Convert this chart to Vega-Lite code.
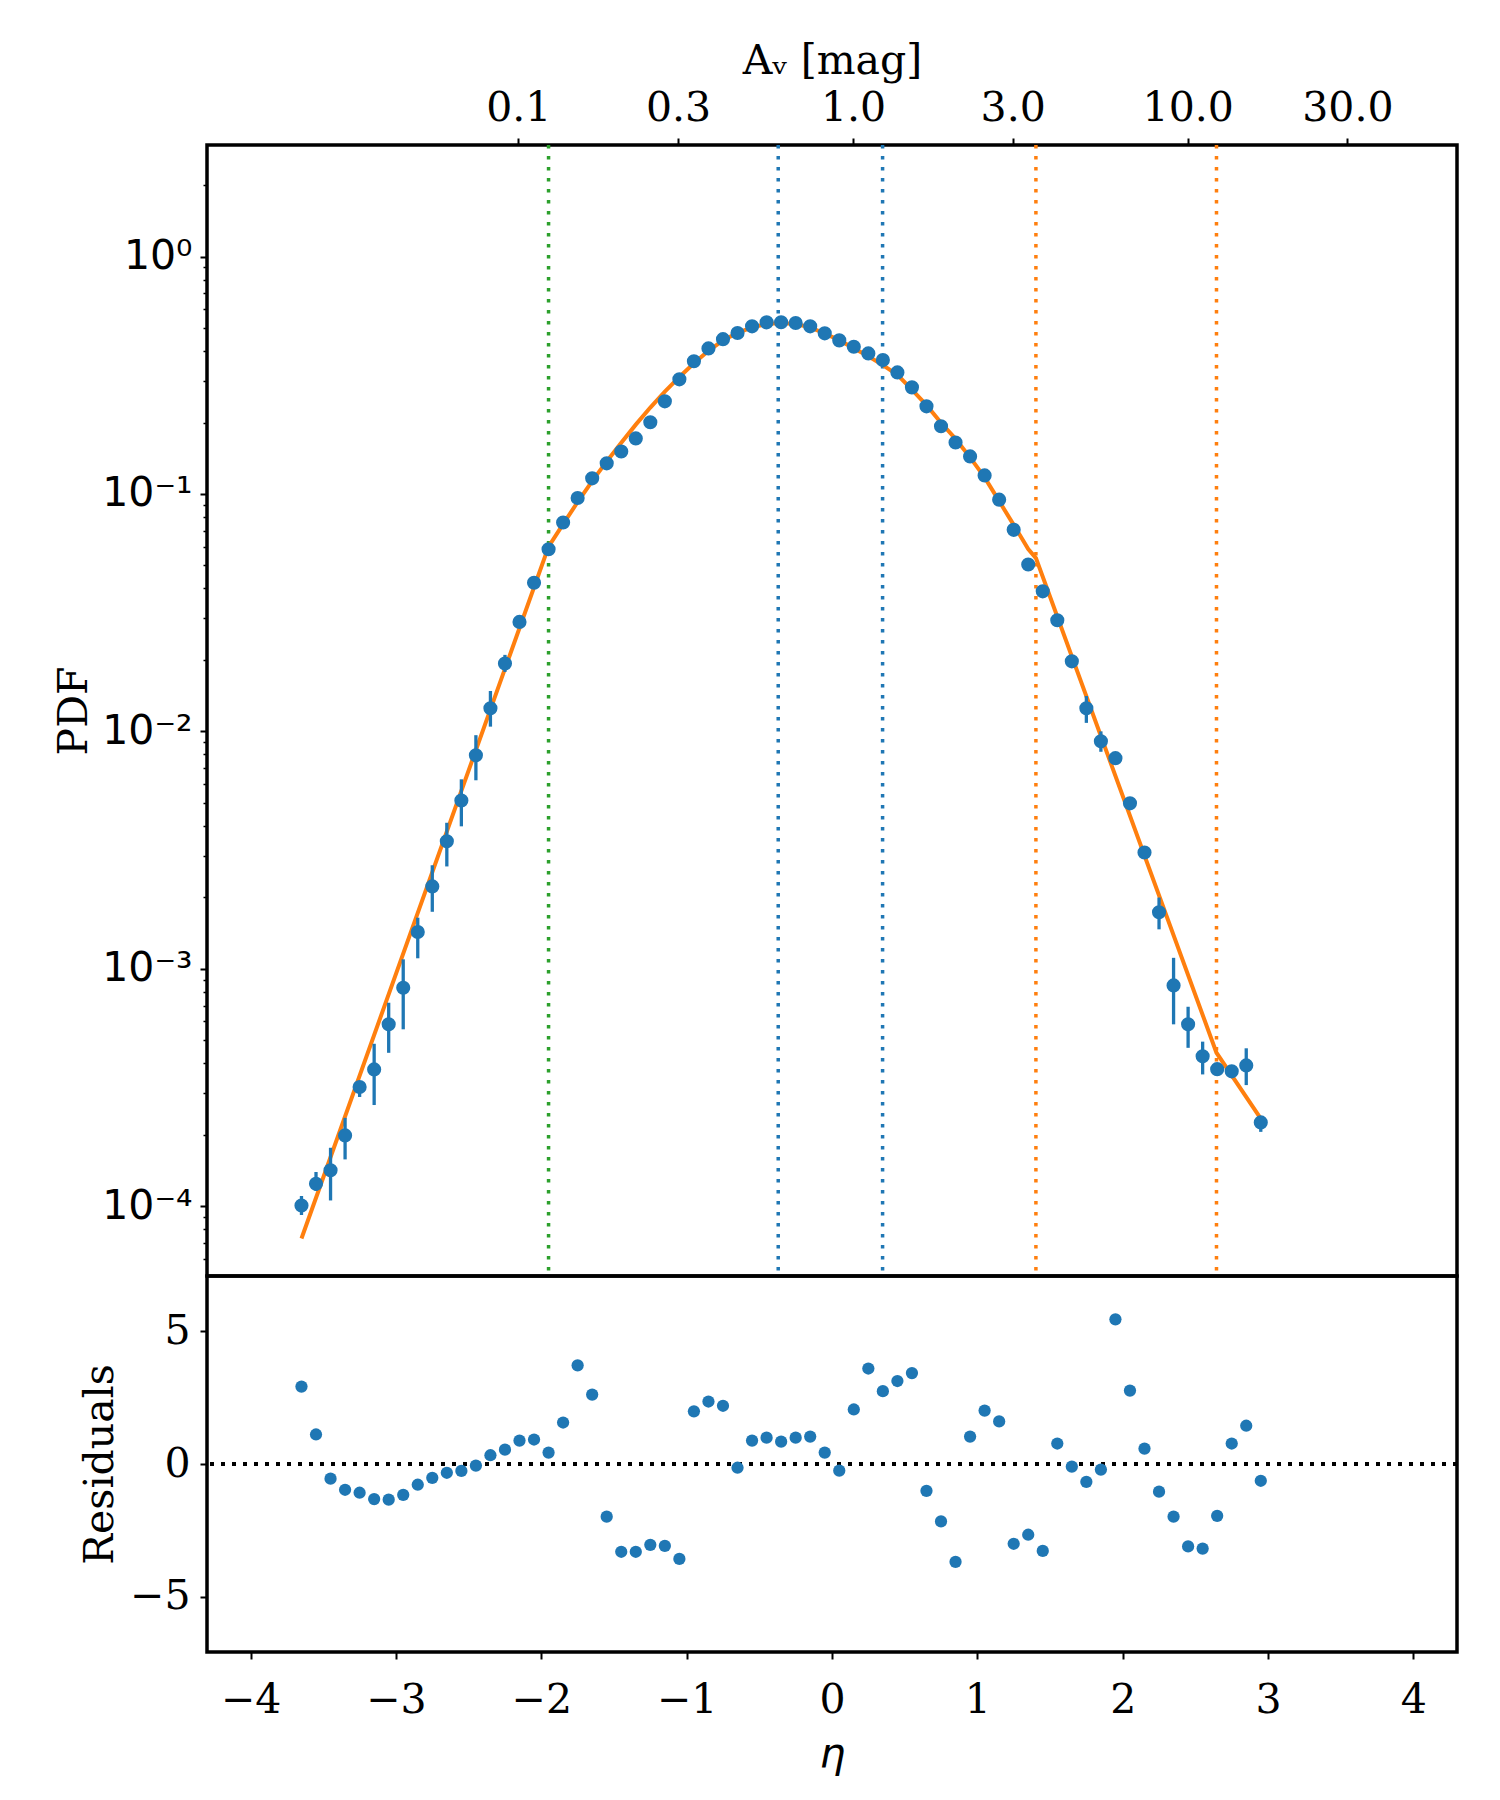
{
  "$schema": "https://vega.github.io/schema/vega-lite/v6.json",
  "background": "white",
  "padding": {"left": 52, "top": 38, "right": 10, "bottom": 10},
  "spacing": 0,
  "bounds": "flush",
  "config": {
    "view": {"stroke": "black", "strokeWidth": 3.5},
    "axis": {
      "domain": false, "grid": false,
      "tickColor": "black", "tickWidth": 2, "tickSize": 7,
      "labelColor": "black", "titleColor": "black",
      "labelFont": "DejaVu Serif", "labelFontSize": 41,
      "titleFont": "DejaVu Serif", "titleFontSize": 41, "titleFontWeight": "normal",
      "labelFlush": false, "labelOverlap": false
    }
  },
  "datasets": {
    "pdf": [
      {"eta": -3.65, "pdf": 1.007e-4, "lo": 9.18e-5, "hi": 1.104e-4, "res": 2.91},
      {"eta": -3.55, "pdf": 1.242e-4, "lo": 1.159e-4, "hi": 1.393e-4, "res": 1.11},
      {"eta": -3.45, "pdf": 1.416e-4, "lo": 1.057e-4, "hi": 1.762e-4, "res": -0.55},
      {"eta": -3.35, "pdf": 1.986e-4, "lo": 1.574e-4, "hi": 2.355e-4, "res": -0.97},
      {"eta": -3.25, "pdf": 3.177e-4, "lo": 2.884e-4, "hi": 3.311e-4, "res": -1.08},
      {"eta": -3.15, "pdf": 3.767e-4, "lo": 2.667e-4, "hi": 4.831e-4, "res": -1.32},
      {"eta": -3.05, "pdf": 5.834e-4, "lo": 4.426e-4, "hi": 7.194e-4, "res": -1.34},
      {"eta": -2.95, "pdf": 8.318e-4, "lo": 5.559e-4, "hi": 1.096e-3, "res": -1.16},
      {"eta": -2.85, "pdf": 1.429e-3, "lo": 1.107e-3, "hi": 1.641e-3, "res": -0.78},
      {"eta": -2.75, "pdf": 2.223e-3, "lo": 1.738e-3, "hi": 2.729e-3, "res": -0.52},
      {"eta": -2.65, "pdf": 3.443e-3, "lo": 2.698e-3, "hi": 4.121e-3, "res": -0.33},
      {"eta": -2.55, "pdf": 5.117e-3, "lo": 3.981e-3, "hi": 6.281e-3, "res": -0.26},
      {"eta": -2.45, "pdf": 7.925e-3, "lo": 6.223e-3, "hi": 9.638e-3, "res": -0.06},
      {"eta": -2.35, "pdf": 1.250e-2, "lo": 1.047e-2, "hi": 1.479e-2, "res": 0.33},
      {"eta": -2.25, "pdf": 1.932e-2, "lo": 1.78e-2, "hi": 2.10e-2, "res": 0.54},
      {"eta": -2.15, "pdf": 2.891e-2, "lo": 2.75e-2, "hi": 3.04e-2, "res": 0.88},
      {"eta": -2.05, "pdf": 4.227e-2, "lo": 4.12e-2, "hi": 4.34e-2, "res": 0.92},
      {"eta": -1.95, "pdf": 5.848e-2, "lo": 5.74e-2, "hi": 5.96e-2, "res": 0.43},
      {"eta": -1.85, "pdf": 0.07586, "lo": 0.0746, "hi": 0.0771, "res": 1.56},
      {"eta": -1.75, "pdf": 0.09616, "lo": 0.0948, "hi": 0.0975, "res": 3.71},
      {"eta": -1.65, "pdf": 0.1164, "lo": 0.1149, "hi": 0.1179, "res": 2.61},
      {"eta": -1.55, "pdf": 0.1346, "lo": 0.1330, "hi": 0.1362, "res": -1.98},
      {"eta": -1.45, "pdf": 0.1510, "lo": 0.1494, "hi": 0.1526, "res": -3.30},
      {"eta": -1.35, "pdf": 0.1714, "lo": 0.1697, "hi": 0.1731, "res": -3.30},
      {"eta": -1.25, "pdf": 0.2004, "lo": 0.1986, "hi": 0.2022, "res": -3.04},
      {"eta": -1.15, "pdf": 0.2455, "lo": 0.2435, "hi": 0.2475, "res": -3.08},
      {"eta": -1.05, "pdf": 0.3041, "lo": 0.3018, "hi": 0.3064, "res": -3.57},
      {"eta": -0.95, "pdf": 0.3622, "lo": 0.3597, "hi": 0.3647, "res": 1.98},
      {"eta": -0.85, "pdf": 0.4102, "lo": 0.4075, "hi": 0.4129, "res": 2.35},
      {"eta": -0.75, "pdf": 0.4487, "lo": 0.4459, "hi": 0.4515, "res": 2.19},
      {"eta": -0.65, "pdf": 0.4764, "lo": 0.4735, "hi": 0.4793, "res": -0.14},
      {"eta": -0.55, "pdf": 0.5082, "lo": 0.5052, "hi": 0.5112, "res": 0.88},
      {"eta": -0.45, "pdf": 0.5284, "lo": 0.5253, "hi": 0.5315, "res": 0.99},
      {"eta": -0.35, "pdf": 0.5290, "lo": 0.5259, "hi": 0.5321, "res": 0.84},
      {"eta": -0.25, "pdf": 0.5248, "lo": 0.5217, "hi": 0.5279, "res": 0.99},
      {"eta": -0.15, "pdf": 0.5082, "lo": 0.5052, "hi": 0.5112, "res": 1.03},
      {"eta": -0.05, "pdf": 0.4748, "lo": 0.4719, "hi": 0.4777, "res": 0.43},
      {"eta": 0.05, "pdf": 0.4436, "lo": 0.4408, "hi": 0.4464, "res": -0.25},
      {"eta": 0.15, "pdf": 0.4169, "lo": 0.4142, "hi": 0.4196, "res": 2.05},
      {"eta": 0.25, "pdf": 0.3908, "lo": 0.3882, "hi": 0.3934, "res": 3.59},
      {"eta": 0.35, "pdf": 0.3664, "lo": 0.3639, "hi": 0.3689, "res": 2.74},
      {"eta": 0.45, "pdf": 0.3251, "lo": 0.3227, "hi": 0.3275, "res": 3.12},
      {"eta": 0.55, "pdf": 0.2812, "lo": 0.2790, "hi": 0.2834, "res": 3.42},
      {"eta": 0.65, "pdf": 0.2339, "lo": 0.2319, "hi": 0.2359, "res": -1.01},
      {"eta": 0.75, "pdf": 0.1928, "lo": 0.1910, "hi": 0.1946, "res": -2.16},
      {"eta": 0.85, "pdf": 0.1648, "lo": 0.1631, "hi": 0.1665, "res": -3.68},
      {"eta": 0.95, "pdf": 0.1439, "lo": 0.1423, "hi": 0.1455, "res": 1.03},
      {"eta": 1.05, "pdf": 0.1197, "lo": 0.1182, "hi": 0.1212, "res": 2.01},
      {"eta": 1.15, "pdf": 0.09462, "lo": 0.0933, "hi": 0.0960, "res": 1.60},
      {"eta": 1.25, "pdf": 0.07063, "lo": 0.0695, "hi": 0.0718, "res": -3.00},
      {"eta": 1.35, "pdf": 0.05047, "lo": 0.0495, "hi": 0.0515, "res": -2.66},
      {"eta": 1.45, "pdf": 0.03890, "lo": 0.0380, "hi": 0.0398, "res": -3.27},
      {"eta": 1.55, "pdf": 0.02938, "lo": 0.0286, "hi": 0.0302, "res": 0.77},
      {"eta": 1.65, "pdf": 0.01972, "lo": 0.0190, "hi": 0.0205, "res": -0.10},
      {"eta": 1.75, "pdf": 0.01250, "lo": 0.01086, "hi": 0.01409, "res": -0.67},
      {"eta": 1.85, "pdf": 0.009078, "lo": 0.008204, "hi": 0.0100, "res": -0.21},
      {"eta": 1.95, "pdf": 0.007709, "lo": 0.00745, "hi": 0.00797, "res": 5.44},
      {"eta": 2.05, "pdf": 0.004977, "lo": 0.00480, "hi": 0.00516, "res": 2.76},
      {"eta": 2.15, "pdf": 0.003090, "lo": 0.00295, "hi": 0.00323, "res": 0.58},
      {"eta": 2.25, "pdf": 0.001730, "lo": 0.001466, "hi": 0.001995, "res": -1.04},
      {"eta": 2.35, "pdf": 8.511e-4, "lo": 5.834e-4, "hi": 1.112e-3, "res": -1.98},
      {"eta": 2.45, "pdf": 5.834e-4, "lo": 4.645e-4, "hi": 6.918e-4, "res": -3.10},
      {"eta": 2.55, "pdf": 4.276e-4, "lo": 3.589e-4, "hi": 4.932e-4, "res": -3.18},
      {"eta": 2.65, "pdf": 3.776e-4, "lo": 3.55e-4, "hi": 4.00e-4, "res": -1.95},
      {"eta": 2.75, "pdf": 3.698e-4, "lo": 3.47e-4, "hi": 3.93e-4, "res": 0.77},
      {"eta": 2.85, "pdf": 3.917e-4, "lo": 3.236e-4, "hi": 4.624e-4, "res": 1.44},
      {"eta": 2.95, "pdf": 2.254e-4, "lo": 2.056e-4, "hi": 2.399e-4, "res": -0.63}
    ],
    "model": [
      {"eta": -3.65, "pdf": 7.31e-5},
      {"eta": -1.95, "pdf": 0.0600},
      {"eta": -1.85, "pdf": 0.0746},
      {"eta": -1.75, "pdf": 0.0925},
      {"eta": -1.65, "pdf": 0.1132},
      {"eta": -1.55, "pdf": 0.1371},
      {"eta": -1.45, "pdf": 0.1644},
      {"eta": -1.35, "pdf": 0.1959},
      {"eta": -1.25, "pdf": 0.2312},
      {"eta": -1.15, "pdf": 0.2698},
      {"eta": -1.05, "pdf": 0.3112},
      {"eta": -0.95, "pdf": 0.3556},
      {"eta": -0.85, "pdf": 0.4009},
      {"eta": -0.75, "pdf": 0.4436},
      {"eta": -0.65, "pdf": 0.4775},
      {"eta": -0.55, "pdf": 0.5035},
      {"eta": -0.45, "pdf": 0.5200},
      {"eta": -0.35, "pdf": 0.5248},
      {"eta": -0.25, "pdf": 0.5200},
      {"eta": -0.15, "pdf": 0.5035},
      {"eta": -0.05, "pdf": 0.4742},
      {"eta": 0.05, "pdf": 0.4446},
      {"eta": 0.15, "pdf": 0.4111},
      {"eta": 0.25, "pdf": 0.3802},
      {"eta": 0.35, "pdf": 0.3491},
      {"eta": 0.45, "pdf": 0.3177},
      {"eta": 0.55, "pdf": 0.2754},
      {"eta": 0.65, "pdf": 0.2366},
      {"eta": 0.75, "pdf": 0.1995},
      {"eta": 0.85, "pdf": 0.1706},
      {"eta": 0.95, "pdf": 0.1426},
      {"eta": 1.05, "pdf": 0.1175},
      {"eta": 1.15, "pdf": 0.0933},
      {"eta": 1.25, "pdf": 0.0741},
      {"eta": 1.35, "pdf": 0.0586},
      {"eta": 1.403, "pdf": 0.0537},
      {"eta": 2.645, "pdf": 4.43e-4},
      {"eta": 2.95, "pdf": 2.34e-4}
    ],
    "lines": [
      {"av": 0.1231, "band": "low"},
      {"av": 0.5977, "band": "mid"},
      {"av": 1.2255, "band": "mid"},
      {"av": 3.519, "band": "high"},
      {"av": 12.19, "band": "high"}
    ]
  },
  "vconcat": [
    {
      "width": 1250,
      "height": 1131,
      "resolve": {"scale": {"x": "independent"}, "axis": {"x": "independent"}},
      "layer": [
        {
          "data": {"name": "lines"},
          "mark": {"type": "rule", "strokeWidth": 3.5, "strokeDash": [3.5, 7.5]},
          "encoding": {
            "x": {
              "field": "av", "type": "quantitative",
              "scale": {"type": "log", "domain": [0.011741, 63.77], "nice": false},
              "axis": {
                "orient": "top", "values": [0.1, 0.3, 1, 3, 10, 30], "format": ".1f",
                "title": "Aᵥ [mag]", "labelPadding": 9, "titlePadding": 5
              }
            },
            "color": {
              "field": "band", "type": "nominal",
              "scale": {"domain": ["low", "mid", "high"], "range": ["#2ca02c", "#1f77b4", "#ff7f0e"]},
              "legend": null
            }
          }
        },
        {
          "layer": [
            {
              "data": {"name": "model"},
              "mark": {"type": "line", "color": "#ff7f0e", "strokeWidth": 4},
              "encoding": {
                "x": {"field": "eta", "type": "quantitative", "scale": {"domain": [-4.3, 4.3], "nice": false}, "axis": null},
                "y": {"field": "pdf", "type": "quantitative", "title": "PDF",
                  "scale": {"type": "log", "domain": [5.08e-5, 2.951], "nice": false},
                  "axis": {
                    "title": "PDF",
                    "values": [6e-5, 7e-5, 8e-5, 9e-5, 1e-4, 2e-4, 3e-4, 4e-4, 5e-4, 6e-4, 7e-4, 8e-4, 9e-4, 0.001, 0.002, 0.003, 0.004, 0.005, 0.006, 0.007, 0.008, 0.009, 0.01, 0.02, 0.03, 0.04, 0.05, 0.06, 0.07, 0.08, 0.09, 0.1, 0.2, 0.3, 0.4, 0.5, 0.6, 0.7, 0.8, 0.9, 1, 2],
                    "labelExpr": "datum.value == 1 ? '10⁰' : datum.value == 0.1 ? '10⁻¹' : datum.value == 0.01 ? '10⁻²' : datum.value == 0.001 ? '10⁻³' : datum.value == 0.0001 ? '10⁻⁴' : ''",
                    "labelFont": "DejaVu Sans",
                    "labelPadding": 8,
                    "titlePadding": 6,
                    "tickSize": {"condition": {"test": "datum.value == 1 || datum.value == 0.1 || datum.value == 0.01 || datum.value == 0.001 || datum.value == 0.0001", "value": 7}, "value": 4},
                    "tickWidth": {"condition": {"test": "datum.value == 1 || datum.value == 0.1 || datum.value == 0.01 || datum.value == 0.001 || datum.value == 0.0001", "value": 2}, "value": 1.5}
                  }
                }
              }
            },
            {
              "data": {"name": "pdf"},
              "mark": {"type": "rule", "color": "#1f77b4", "strokeWidth": 3.3},
              "encoding": {
                "x": {"field": "eta", "type": "quantitative"},
                "y": {"field": "lo", "type": "quantitative", "title": "PDF"},
                "y2": {"field": "hi"}
              }
            },
            {
              "data": {"name": "pdf"},
              "mark": {"type": "circle", "color": "#1f77b4", "size": 200, "opacity": 1},
              "encoding": {
                "x": {"field": "eta", "type": "quantitative"},
                "y": {"field": "pdf", "type": "quantitative", "title": "PDF"}
              }
            }
          ]
        }
      ]
    },
    {
      "width": 1250,
      "height": 376,
      "data": {"name": "pdf"},
      "layer": [
        {
          "mark": {"type": "rule", "color": "black", "strokeWidth": 3.5, "strokeDash": [3.5, 7.5]},
          "encoding": {"y": {"datum": 0, "type": "quantitative", "title": "Residuals"}}
        },
        {
          "mark": {"type": "circle", "color": "#1f77b4", "size": 150, "opacity": 1},
          "encoding": {
            "x": {
              "field": "eta", "type": "quantitative", "title": "η",
              "scale": {"domain": [-4.3, 4.3], "nice": false},
              "axis": {"values": [-4, -3, -2, -1, 0, 1, 2, 3, 4], "format": "d", "labelPadding": 21, "titlePadding": 14, "titleFont": "DejaVu Sans", "titleFontStyle": "italic"}
            },
            "y": {
              "field": "res", "type": "quantitative", "title": "Residuals",
              "scale": {"domain": [-7.07, 7.07], "nice": false},
              "axis": {"values": [-5, 0, 5], "format": "d", "labelPadding": 10, "titlePadding": 8}
            }
          }
        }
      ]
    }
  ]
}
